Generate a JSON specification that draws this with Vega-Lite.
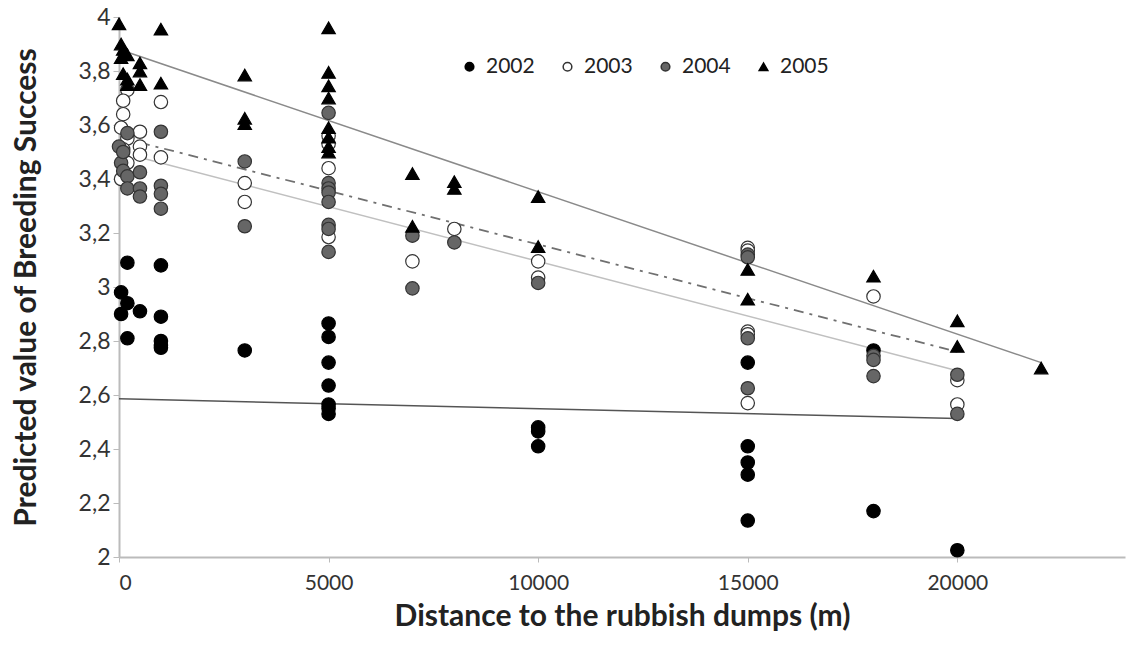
{
  "$schema": "https://vega.github.io/schema/vega-lite/v6.json",
  "autosize": {"type": "none"},
  "width": 1006,
  "height": 540,
  "padding": {"left": 119, "top": 17, "right": 12, "bottom": 88},
  "background": "white",
  "config": {
    "view": {"stroke": null},
    "font": "Lato",
    "axis": {"grid": false, "labelFont": "Lato", "titleFont": "Lato"}
  },
  "layer": [
    {
      "data": {"values": [
        {"dist": 0, "bs": 2.586}, {"dist": 20000, "bs": 2.513}
      ]},
      "mark": {"type": "line", "color": "#555555", "strokeWidth": 1.5},
      "encoding": {
        "x": {"field": "dist", "type": "quantitative", "scale": {"domain": [0, 22500]},
          "axis": {"values": [0, 5000, 10000, 15000, 20000], "format": "d", "title": "Distance to the rubbish dumps  (m)",
            "labelFontSize": 21, "labelColor": "#333333", "domainColor": "#bbbbbb", "domainWidth": 2, "tickColor": "#bbbbbb", "tickSize": 5,
            "labelPadding": 10, "titleFontSize": 30, "titleFontWeight": "bold", "titleColor": "#222222", "titlePadding": 8}},
        "y": {"field": "bs", "type": "quantitative", "scale": {"domain": [2, 4], "zero": false},
          "axis": {"values": [2, 2.2, 2.4, 2.6, 2.8, 3, 3.2, 3.4, 3.6, 3.8, 4],
            "labelExpr": "replace(format(datum.value, '.1~f'), '.', ',')",
            "title": "Predicted value of Breeding Success",
            "labelFontSize": 23, "labelColor": "#333333", "domainColor": "#bbbbbb", "domainWidth": 2, "tickColor": "#bbbbbb", "tickSize": 6,
            "labelPadding": 3, "titleFontSize": 30, "titleFontWeight": "bold", "titleColor": "#222222", "titlePadding": 37}}
      }
    },
    {
      "data": {"values": [
        {"dist": 500, "bs": 3.48}, {"dist": 20000, "bs": 2.69}
      ]},
      "mark": {"type": "line", "color": "#c0c0c0", "strokeWidth": 1.5},
      "encoding": {
        "x": {"field": "dist", "type": "quantitative"},
        "y": {"field": "bs", "type": "quantitative"}
      }
    },
    {
      "data": {"values": [
        {"dist": 500, "bs": 3.535}, {"dist": 20000, "bs": 2.76}
      ]},
      "mark": {"type": "line", "color": "#707070", "strokeWidth": 1.8, "strokeDash": [10, 6, 3, 6]},
      "encoding": {
        "x": {"field": "dist", "type": "quantitative"},
        "y": {"field": "bs", "type": "quantitative"}
      }
    },
    {
      "data": {"values": [
        {"dist": 100, "bs": 3.875}, {"dist": 22000, "bs": 2.72}
      ]},
      "mark": {"type": "line", "color": "#8a8a8a", "strokeWidth": 1.5},
      "encoding": {
        "x": {"field": "dist", "type": "quantitative"},
        "y": {"field": "bs", "type": "quantitative"}
      }
    },
    {
      "data": {"values": [
        {"year": "2002", "dist": 50, "bs": 2.98}, {"year": "2002", "dist": 200, "bs": 2.94}, {"year": "2002", "dist": 50, "bs": 2.90},
        {"year": "2002", "dist": 200, "bs": 2.81}, {"year": "2002", "dist": 200, "bs": 3.09}, {"year": "2002", "dist": 500, "bs": 2.91},
        {"year": "2002", "dist": 1000, "bs": 3.08}, {"year": "2002", "dist": 1000, "bs": 2.89}, {"year": "2002", "dist": 1000, "bs": 2.80},
        {"year": "2002", "dist": 1000, "bs": 2.785}, {"year": "2002", "dist": 1000, "bs": 2.775}, {"year": "2002", "dist": 3000, "bs": 2.765},
        {"year": "2002", "dist": 5000, "bs": 2.865}, {"year": "2002", "dist": 5000, "bs": 2.815}, {"year": "2002", "dist": 5000, "bs": 2.72},
        {"year": "2002", "dist": 5000, "bs": 2.635}, {"year": "2002", "dist": 5000, "bs": 2.565}, {"year": "2002", "dist": 5000, "bs": 2.55},
        {"year": "2002", "dist": 5000, "bs": 2.53}, {"year": "2002", "dist": 10000, "bs": 2.48}, {"year": "2002", "dist": 10000, "bs": 2.465},
        {"year": "2002", "dist": 10000, "bs": 2.41}, {"year": "2002", "dist": 15000, "bs": 2.72}, {"year": "2002", "dist": 15000, "bs": 2.41},
        {"year": "2002", "dist": 15000, "bs": 2.35}, {"year": "2002", "dist": 15000, "bs": 2.305}, {"year": "2002", "dist": 15000, "bs": 2.135},
        {"year": "2002", "dist": 18000, "bs": 2.765}, {"year": "2002", "dist": 18000, "bs": 2.17}, {"year": "2002", "dist": 20000, "bs": 2.025},

        {"year": "2003", "dist": 200, "bs": 3.73}, {"year": "2003", "dist": 100, "bs": 3.69}, {"year": "2003", "dist": 100, "bs": 3.64},
        {"year": "2003", "dist": 50, "bs": 3.59}, {"year": "2003", "dist": 200, "bs": 3.55}, {"year": "2003", "dist": 100, "bs": 3.51},
        {"year": "2003", "dist": 200, "bs": 3.46}, {"year": "2003", "dist": 50, "bs": 3.40}, {"year": "2003", "dist": 500, "bs": 3.575},
        {"year": "2003", "dist": 500, "bs": 3.52}, {"year": "2003", "dist": 500, "bs": 3.49}, {"year": "2003", "dist": 1000, "bs": 3.685},
        {"year": "2003", "dist": 1000, "bs": 3.48}, {"year": "2003", "dist": 3000, "bs": 3.385}, {"year": "2003", "dist": 3000, "bs": 3.315},
        {"year": "2003", "dist": 5000, "bs": 3.56}, {"year": "2003", "dist": 5000, "bs": 3.53}, {"year": "2003", "dist": 5000, "bs": 3.44},
        {"year": "2003", "dist": 5000, "bs": 3.185}, {"year": "2003", "dist": 7000, "bs": 3.095}, {"year": "2003", "dist": 8000, "bs": 3.215},
        {"year": "2003", "dist": 10000, "bs": 3.095}, {"year": "2003", "dist": 10000, "bs": 3.035}, {"year": "2003", "dist": 15000, "bs": 3.145},
        {"year": "2003", "dist": 15000, "bs": 3.135}, {"year": "2003", "dist": 15000, "bs": 2.835}, {"year": "2003", "dist": 15000, "bs": 2.825},
        {"year": "2003", "dist": 15000, "bs": 2.57}, {"year": "2003", "dist": 18000, "bs": 2.965}, {"year": "2003", "dist": 20000, "bs": 2.655},
        {"year": "2003", "dist": 20000, "bs": 2.565},

        {"year": "2004", "dist": 0, "bs": 3.52}, {"year": "2004", "dist": 200, "bs": 3.57}, {"year": "2004", "dist": 50, "bs": 3.46},
        {"year": "2004", "dist": 100, "bs": 3.43}, {"year": "2004", "dist": 200, "bs": 3.41}, {"year": "2004", "dist": 200, "bs": 3.365},
        {"year": "2004", "dist": 100, "bs": 3.50}, {"year": "2004", "dist": 500, "bs": 3.425}, {"year": "2004", "dist": 500, "bs": 3.365},
        {"year": "2004", "dist": 500, "bs": 3.335}, {"year": "2004", "dist": 1000, "bs": 3.575}, {"year": "2004", "dist": 1000, "bs": 3.375},
        {"year": "2004", "dist": 1000, "bs": 3.345}, {"year": "2004", "dist": 1000, "bs": 3.29}, {"year": "2004", "dist": 3000, "bs": 3.465},
        {"year": "2004", "dist": 3000, "bs": 3.225}, {"year": "2004", "dist": 5000, "bs": 3.645}, {"year": "2004", "dist": 5000, "bs": 3.385},
        {"year": "2004", "dist": 5000, "bs": 3.365}, {"year": "2004", "dist": 5000, "bs": 3.35}, {"year": "2004", "dist": 5000, "bs": 3.315},
        {"year": "2004", "dist": 5000, "bs": 3.23}, {"year": "2004", "dist": 5000, "bs": 3.215}, {"year": "2004", "dist": 5000, "bs": 3.13},
        {"year": "2004", "dist": 7000, "bs": 3.19}, {"year": "2004", "dist": 7000, "bs": 2.995}, {"year": "2004", "dist": 8000, "bs": 3.165},
        {"year": "2004", "dist": 10000, "bs": 3.015}, {"year": "2004", "dist": 15000, "bs": 3.12}, {"year": "2004", "dist": 15000, "bs": 3.11},
        {"year": "2004", "dist": 15000, "bs": 2.81}, {"year": "2004", "dist": 15000, "bs": 2.625}, {"year": "2004", "dist": 18000, "bs": 2.745},
        {"year": "2004", "dist": 18000, "bs": 2.73}, {"year": "2004", "dist": 18000, "bs": 2.67}, {"year": "2004", "dist": 20000, "bs": 2.675},
        {"year": "2004", "dist": 20000, "bs": 2.53},

        {"year": "2005", "dist": 0, "bs": 3.975}, {"year": "2005", "dist": 50, "bs": 3.90}, {"year": "2005", "dist": 100, "bs": 3.88},
        {"year": "2005", "dist": 200, "bs": 3.86}, {"year": "2005", "dist": 100, "bs": 3.79}, {"year": "2005", "dist": 200, "bs": 3.77},
        {"year": "2005", "dist": 200, "bs": 3.75}, {"year": "2005", "dist": 50, "bs": 3.85}, {"year": "2005", "dist": 500, "bs": 3.83},
        {"year": "2005", "dist": 500, "bs": 3.80}, {"year": "2005", "dist": 500, "bs": 3.75}, {"year": "2005", "dist": 1000, "bs": 3.955},
        {"year": "2005", "dist": 1000, "bs": 3.755}, {"year": "2005", "dist": 3000, "bs": 3.785}, {"year": "2005", "dist": 3000, "bs": 3.625},
        {"year": "2005", "dist": 3000, "bs": 3.605}, {"year": "2005", "dist": 5000, "bs": 3.96}, {"year": "2005", "dist": 5000, "bs": 3.795},
        {"year": "2005", "dist": 5000, "bs": 3.745}, {"year": "2005", "dist": 5000, "bs": 3.70}, {"year": "2005", "dist": 5000, "bs": 3.59},
        {"year": "2005", "dist": 5000, "bs": 3.555}, {"year": "2005", "dist": 5000, "bs": 3.52}, {"year": "2005", "dist": 5000, "bs": 3.50},
        {"year": "2005", "dist": 7000, "bs": 3.42}, {"year": "2005", "dist": 7000, "bs": 3.225}, {"year": "2005", "dist": 8000, "bs": 3.39},
        {"year": "2005", "dist": 8000, "bs": 3.365}, {"year": "2005", "dist": 10000, "bs": 3.335}, {"year": "2005", "dist": 10000, "bs": 3.15},
        {"year": "2005", "dist": 15000, "bs": 3.065}, {"year": "2005", "dist": 15000, "bs": 2.955}, {"year": "2005", "dist": 18000, "bs": 3.04},
        {"year": "2005", "dist": 20000, "bs": 2.875}, {"year": "2005", "dist": 20000, "bs": 2.78}, {"year": "2005", "dist": 22000, "bs": 2.70}
      ]},
      "mark": {"type": "point", "filled": true, "size": 180, "strokeWidth": 1.2, "opacity": 1},
      "encoding": {
        "x": {"field": "dist", "type": "quantitative"},
        "y": {"field": "bs", "type": "quantitative"},
        "fill": {"field": "year", "type": "nominal",
          "scale": {"domain": ["2002", "2003", "2004", "2005"], "range": ["#000000", "#ffffff", "#666666", "#000000"]},
          "legend": {"orient": "none", "legendX": 340, "legendY": 39, "direction": "horizontal", "columns": 4, "title": null,
            "labelFontSize": 21, "labelColor": "#222222", "labelFont": "Lato", "symbolSize": 75, "labelOffset": 6, "columnPadding": 22}},
        "stroke": {"field": "year", "type": "nominal",
          "scale": {"domain": ["2002", "2003", "2004", "2005"], "range": ["#000000", "#333333", "#333333", "#000000"]}},
        "shape": {"field": "year", "type": "nominal",
          "scale": {"domain": ["2002", "2003", "2004", "2005"], "range": ["circle", "circle", "circle", "triangle-up"]}}
      }
    }
  ]
}
